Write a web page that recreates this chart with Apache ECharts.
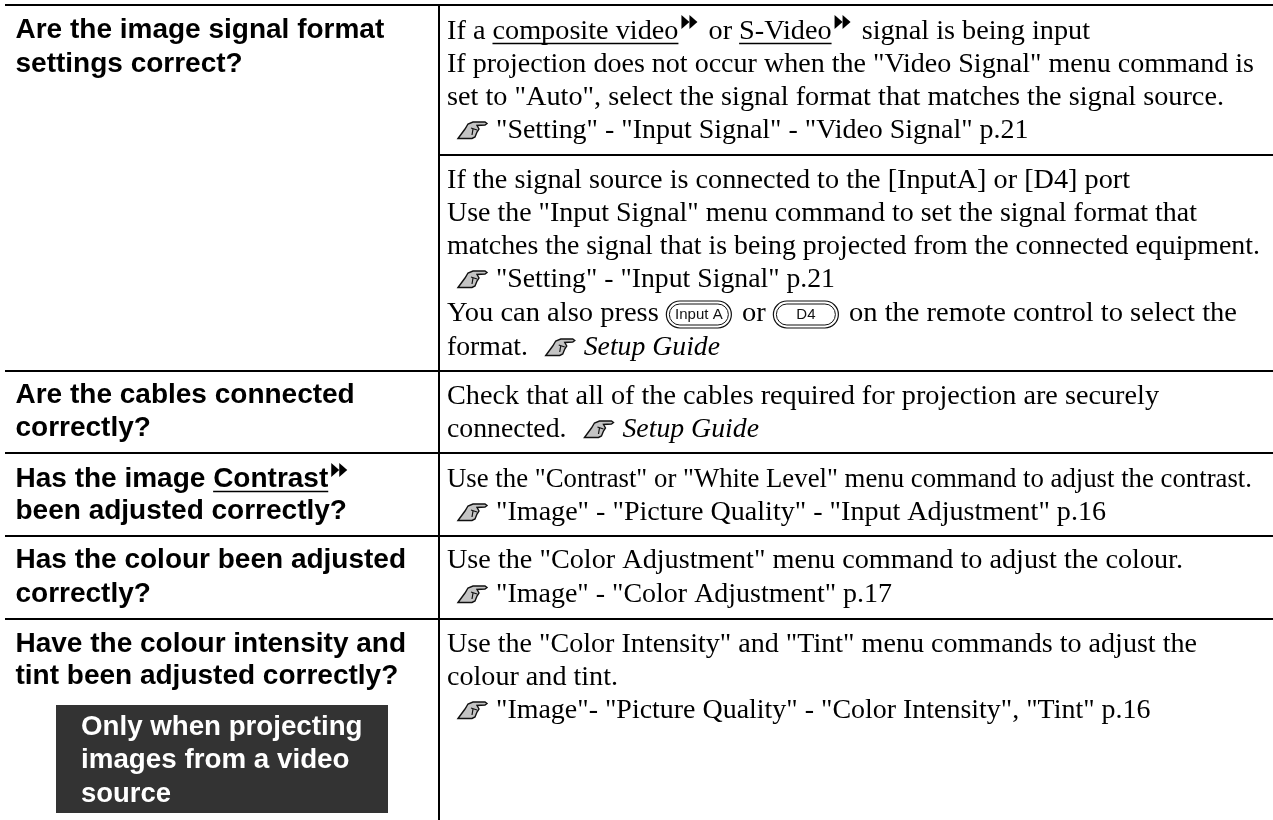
<!DOCTYPE html>
<html><head><meta charset="utf-8">
<style>html,body{margin:0;padding:0;background:#fff}#c{width:1273px;height:820px}</style>
<script src="https://cdn.jsdelivr.net/npm/echarts@6/dist/echarts.min.js"></script>
</head><body><div id="c"></div>
<script>
// Text content of the table (run kinds: plain string, {u}=underlined, {a}=arrow mark, {h}=hand icon, {i}=italic, {k}=remote key)
const leftCells = [
  ["Are the image signal format", "settings correct?"],
  ["Are the cables connected", "correctly?"],
  [["Has the image ", {u:"Contrast"}, {a:1}], "been adjusted correctly?"],
  ["Has the colour been adjusted", "correctly?"],
  ["Have the colour intensity and", "tint been adjusted correctly?"]
];
const noteLines = ["Only when projecting", "images from a video", "source"];
const rightCells = [
  [["If a ", {u:"composite video"}, {a:1}, " or ", {u:"S-Video"}, {a:1}, " signal is being input"],
   "If projection does not occur when the \"Video Signal\" menu command is",
   "set to \"Auto\", select the signal format that matches the signal source.",
   [{h:1}, "\"Setting\" - \"Input Signal\" - \"Video Signal\" p.21"]],
  ["If the signal source is connected to the [InputA] or [D4] port",
   "Use the \"Input Signal\" menu command to set the signal format that",
   "matches the signal that is being projected from the connected equipment.",
   [{h:1}, "\"Setting\" - \"Input Signal\" p.21"],
   ["You can also press ", {k:"Input A"}, " or ", {k:"D4"}, " on the remote control to select the"],
   ["format. ", {h:1}, {i:"Setup Guide"}]],
  ["Check that all of the cables required for projection are securely",
   ["connected. ", {h:1}, {i:"Setup Guide"}]],
  ["Use the \"Contrast\" or \"White Level\" menu command to adjust the contrast.",
   [{h:1}, "\"Image\" - \"Picture Quality\" - \"Input Adjustment\" p.16"]],
  ["Use the \"Color Adjustment\" menu command to adjust the colour.",
   [{h:1}, "\"Image\" - \"Color Adjustment\" p.17"]],
  ["Use the \"Color Intensity\" and \"Tint\" menu commands to adjust the",
   "colour and tint.",
   [{h:1}, "\"Image\"- \"Picture Quality\" - \"Color Intensity\", \"Tint\" p.16"]]
];
const leftBaselines = [[38,72],[403,436],[487,519],[568,602],[652,684]];
const noteBaselines = [735,768,802];
const rightBaselines = [[39,72,105,138],[188,221,254,287,321,355],[404,437],[487,520],[568,602],[652,685,718]];
// right edge of each line of the right-hand column
const rightEnds = [[1090,1254,1224,1028.5],[1130,1197,1260,835,1237,720],[1159,759],[1252,1106],[1183,892],[1197,618,1150.5]];
const noteEnds = [362.5,349.5,171];

const SERIF = '"Liberation Serif"', SANS = '"Liberation Sans"';
const SS = 28, BS = 28;
const ctx = document.createElement('canvas').getContext('2d');
const mw = (t, f) => { ctx.font = f; return ctx.measureText(t).width; };
const g = [];
const line = (x1,y1,x2,y2,w) => g.push({type:'line',shape:{x1,y1,x2,y2},style:{stroke:'#000',lineWidth:w}});
const text = (t,x,base,size,family,opt={}) => g.push({type:'text',x,y:base+(family===SANS?1.5:2.5)-(family===SANS?0.3465:0.3375)*size,scaleX:opt.sx||1,
  style:{text:t,font:`${opt.style||'normal'} ${opt.weight||'normal'} ${size}px ${family}`,fill:opt.fill||'#000',textAlign:'left',textVerticalAlign:'middle'}});
function hand(x,b){
  // pointing hand icon, x = left edge, b = baseline
  const pts=[[0,0.5],[7,-9],[10,-14],[15,-16],[27,-16],[29,-14.5],[27,-13],[19,-12.5],[21,-9],[19,-6],[17,-1],[14,0.5]];
  g.push({type:'polygon',shape:{points:pts.map(p=>[x+p[0],b+p[1]])},style:{fill:'#c4c4c4',stroke:'#111',lineWidth:1.4}});
  g.push({type:'polyline',shape:{points:[[x+13,b-10],[x+19,b-8]]},style:{fill:'none',stroke:'#111',lineWidth:1.2}});
  g.push({type:'polyline',shape:{points:[[x+15,b-9],[x+14,b-3]]},style:{fill:'none',stroke:'#111',lineWidth:1.2}});
}
function arrow(x,b){
  const y0=b-24, h=14, w=8, x0=x+3;
  [0,1].forEach(i=>g.push({type:'polygon',shape:{points:[[x0+i*w,y0],[x0+i*w+w,y0+h/2],[x0+i*w,y0+h]]},style:{fill:'#000'}}));
}
const KEYW=65, HANDW=49, ARROWW=23;
function key(x,b,label){
  const w=KEYW, h=27, y=b-20.5;
  g.push({type:'rect',shape:{x:x+0.5,y:y+0.5,width:w,height:h,r:h/2},style:{fill:'#fff',stroke:'#111',lineWidth:1.2}});
  g.push({type:'rect',shape:{x:x+3.5,y:y+3.5,width:w-6,height:h-6,r:(h-6)/2},style:{fill:'#fff',stroke:'#111',lineWidth:1}});
  g.push({type:'text',x:x+w/2+.5,y:y+h/2+1,style:{text:label,font:`normal 15px ${SANS}`,fill:'#111',textAlign:'center',textVerticalAlign:'middle'}});
}
function flow(runs,x,b,size,family,weight,end){
  runs = Array.isArray(runs)?runs:[runs];
  const f=(st)=>`${st||'normal'} ${weight||'normal'} ${size}px ${family}`;
  let tw=0, fixed=0;
  runs.forEach(r=>{
    if(typeof r==='string') tw+=mw(r,f());
    else if(r.u) tw+=mw(r.u,f());
    else if(r.i) tw+=mw(r.i,f('italic'));
    else if(r.a) fixed+=ARROWW;
    else if(r.h) fixed+=HANDW;
    else if(r.k) fixed+=KEYW+4;
  });
  const sx = end ? (end-x-fixed)/tw : 1;
  runs.forEach(r=>{
    if(typeof r==='string'){ text(r,x,b,size,family,{weight,sx}); x+=mw(r,f())*sx; }
    else if(r.u){ text(r.u,x,b,size,family,{weight,sx}); const w=mw(r.u,f())*sx; line(x,b+4.5,x+w,b+4.5,1.5); x+=w; }
    else if(r.i){ text(r.i,x,b,size,family,{weight,style:'italic',sx}); x+=mw(r.i,f('italic'))*sx; }
    else if(r.a){ arrow(x,b); x+=ARROWW; }
    else if(r.h){ hand(x+11,b); x+=HANDW; }
    else if(r.k){ key(x,b,r.k); x+=KEYW+4; }
  });
}
const LX=15.5, RX=447;
leftCells.forEach((c,i)=>c.forEach((l,j)=>flow(l,LX,leftBaselines[i][j],BS,SANS,'bold')));
rightCells.forEach((c,i)=>c.forEach((l,j)=>flow(l,RX,rightBaselines[i][j],SS,SERIF,'normal',rightEnds[i][j])));
g.push({type:'rect',shape:{x:56,y:705,width:332,height:108},style:{fill:'#333'}});
noteLines.forEach((l,j)=>{
  const sx=(noteEnds[j]-81)/mw(l,`normal bold ${BS}px ${SANS}`);
  text(l,81,noteBaselines[j],BS,SANS,{weight:'bold',fill:'#fff',sx});
});
line(5,5,1273,5,2);
line(439,5,439,820,2);
line(439,155,1273,155,2);
[371,453,536,619].forEach(y=>line(5,y,1273,y,2));
const chart = echarts.init(document.getElementById('c'),null,{renderer:'canvas'});
chart.setOption({animation:false,graphic:{elements:g}});
</script></body></html>
